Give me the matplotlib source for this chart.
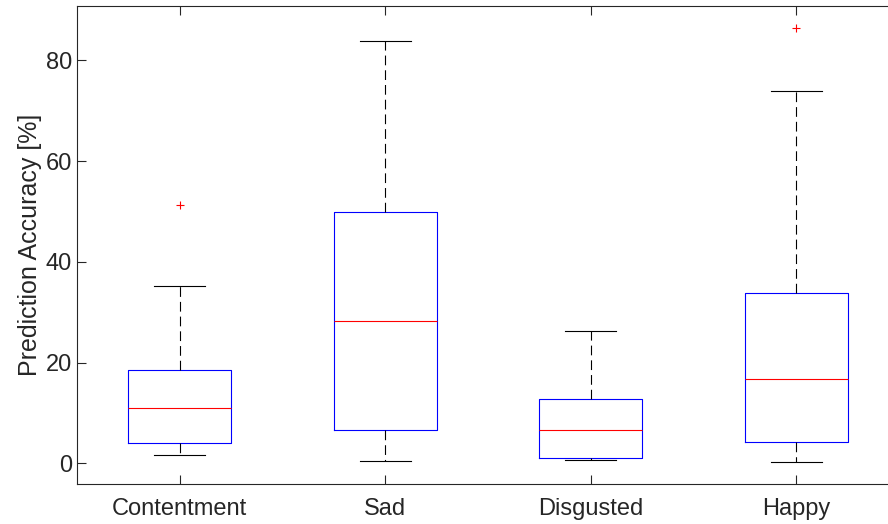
import numpy as np
import matplotlib
matplotlib.use("Agg")
import matplotlib.pyplot as plt

plt.rcParams['font.family'] = ['Liberation Sans', 'DejaVu Sans']
plt.rcParams['lines.scale_dashes'] = False

categories = ['Contentment', 'Sad', 'Disgusted', 'Happy']
whislo = [1.6, 0.4, 0.6, 0.2]
q1 = [4.0, 6.7, 1.0, 4.2]
med = [10.9, 28.2, 6.7, 16.7]
q3 = [18.5, 50.0, 12.7, 33.9]
whishi = [35.3, 83.9, 26.2, 74.0]
fliers = [[51.2], [], [], [86.4]]

stats = []
for i, name in enumerate(categories):
    stats.append(dict(label=name, whislo=whislo[i], q1=q1[i], med=med[i],
                      q3=q3[i], whishi=whishi[i], fliers=fliers[i]))

fig = plt.figure(figsize=(8.88, 5.24), dpi=100)
ax = fig.add_axes([77/888, (524-484)/524, (899-77)/888, (484-6)/524])

axcol = '#262626'
ax.bxp(stats, positions=[1, 2, 3, 4], widths=0.5,
       boxprops=dict(color='blue', linewidth=0.8),
       medianprops=dict(color='red', linewidth=0.8),
       whiskerprops=dict(color='black', linewidth=0.8, linestyle=(0, (7, 3.6))),
       capprops=dict(color='black', linewidth=0.8),
       flierprops=dict(marker='+', markeredgecolor='red', markersize=6,
                       markeredgewidth=0.8, linestyle='none'),
       capwidths=0.25)

ax.set_xlim(0.5, 4.5)
ax.set_ylim(-4.1, 90.8)
ax.set_yticks([0, 20, 40, 60, 80])
ax.set_xticks([1, 2, 3, 4])
ax.set_xticklabels(categories)
ax.set_ylabel('Prediction Accuracy [%]', fontsize=18, color=axcol, labelpad=3)
ax.tick_params(axis='both', direction='in', length=6.3, width=0.8,
               labelsize=17, colors=axcol, labelcolor=axcol, top=True)
ax.tick_params(axis='x', pad=10)
for s in ax.spines.values():
    s.set_color(axcol)
    s.set_linewidth(0.8)

fig.savefig('out.png', dpi=100)
